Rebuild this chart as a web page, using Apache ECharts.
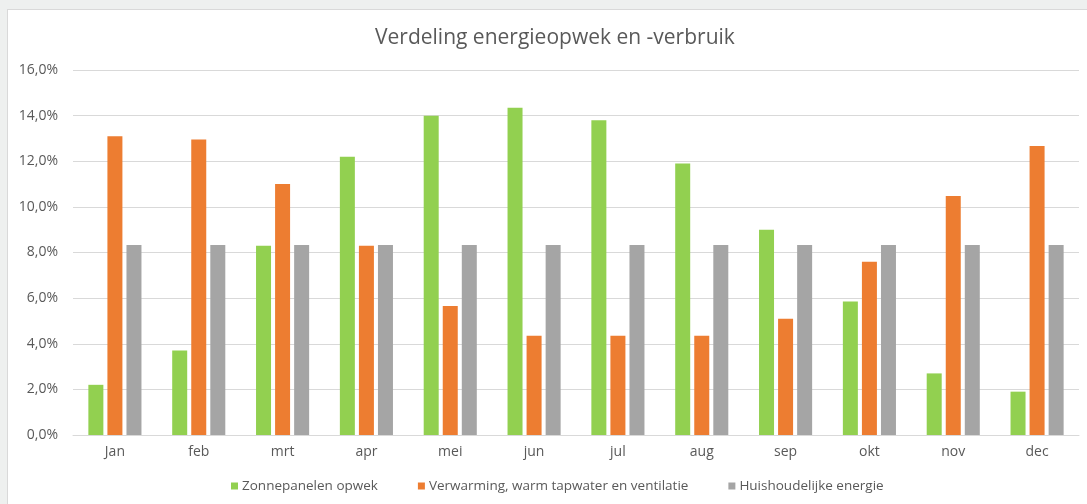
<!DOCTYPE html>
<html>
<head>
<meta charset="utf-8">
<script src="https://cdn.jsdelivr.net/npm/echarts@6/dist/echarts.min.js"></script>
<style>
    html, body {
        margin: 0;
        padding: 0;
        background: #eef0ef;
    }
    .panel {
        position: absolute;
        left: 7px;
        top: 9px;
        width: 1090px;
        height: 500px;
        background: #ffffff;
        border: 1px solid #d9d9d9;
    }
    #chart {
        position: absolute;
        left: 0;
        top: 0;
        width: 1087px;
        height: 504px;
    }
</style>
</head>
<body>
<div class="panel"></div>
<div id="chart"></div>
<script>
    var months = ['Jan', 'feb', 'mrt', 'apr', 'mei', 'jun', 'jul', 'aug', 'sep', 'okt', 'nov', 'dec']
    var seriesNames = ['Zonnepanelen opwek', 'Verwarming, warm tapwater en ventilatie', 'Huishoudelijke energie']
    // percentages
    var zonnepanelen = [2.2, 3.7, 8.3, 12.2, 14.0, 14.35, 13.8, 11.9, 9.0, 5.85, 2.7, 1.9]
    var verwarming = [13.1, 12.95, 11.0, 8.3, 5.65, 4.35, 4.35, 4.35, 5.1, 7.6, 10.48, 12.67]
    var huishoudelijk = [8.33, 8.33, 8.33, 8.33, 8.33, 8.33, 8.33, 8.33, 8.33, 8.33, 8.33, 8.33]
    var yTicks = [0, 2, 4, 6, 8, 10, 12, 14, 16]

    var colors = ['#92d050', '#ed7d31', '#a5a5a5']
    var font = '"Open Sans", sans-serif'

    var chart = echarts.init(document.getElementById('chart'))
    var option = {
        backgroundColor: 'transparent',
        color: colors,
        title: {
            text: 'Verdeling energieopwek en -verbruik',
            left: 370,
            top: 23,
            textStyle: {
                color: '#595959',
                fontSize: 21,
                fontWeight: 'normal',
                fontFamily: font
            }
        },
        legend: {
            bottom: 6,
            left: 226,
            icon: 'rect',
            itemWidth: 7,
            itemHeight: 7,
            itemGap: 40,
            textStyle: {
                color: '#595959',
                fontSize: 13.5,
                fontFamily: font,
                padding: [0, 0, 0, -1]
            },
            data: seriesNames
        },
        grid: {
            left: 73,
            right: 8,
            top: 70,
            bottom: 69
        },
        xAxis: {
            type: 'category',
            data: months,
            axisTick: { show: false },
            axisLine: { lineStyle: { color: '#d9d9d9' } },
            axisLabel: {
                color: '#595959',
                fontSize: 14,
                fontFamily: font,
                margin: 10
            }
        },
        yAxis: {
            type: 'value',
            min: yTicks[0],
            max: yTicks[yTicks.length - 1],
            interval: yTicks[1] - yTicks[0],
            axisLine: { show: false },
            axisTick: { show: false },
            splitLine: { lineStyle: { color: '#d9d9d9' } },
            axisLabel: {
                color: '#595959',
                fontSize: 14,
                fontFamily: font,
                margin: 15,
                formatter: function (v) {
                    return v.toFixed(1).replace('.', ',') + '%'
                }
            }
        },
        series: [
            { name: seriesNames[0], type: 'bar', barWidth: 15, barGap: '27%', data: zonnepanelen },
            { name: seriesNames[1], type: 'bar', barWidth: 15, barGap: '27%', data: verwarming },
            { name: seriesNames[2], type: 'bar', barWidth: 15, barGap: '27%', data: huishoudelijk }
        ]
    }
    chart.setOption(option)
</script>
</body>
</html>
